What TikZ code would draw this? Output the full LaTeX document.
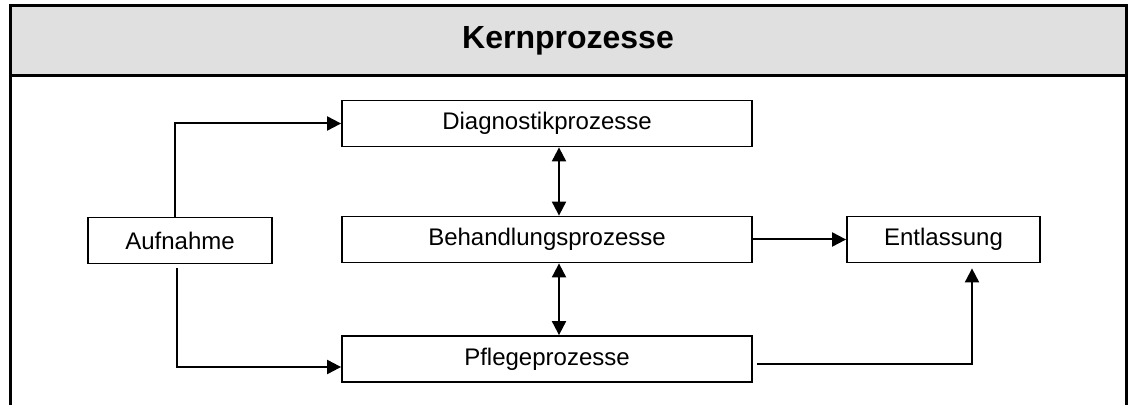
\documentclass[tikz,border=0pt]{standalone}
\usepackage{fontspec}
\setmainfont{Liberation Sans}
\usepackage{xcolor}
\usetikzlibrary{arrows.meta}
\definecolor{kopfgrau}{RGB}{224,224,224}

\begin{document}
\begin{tikzpicture}[x=0.5pt,y=-0.5pt,
        prozess/.style={draw, line width=0.9pt, minimum height=23pt, inner sep=0pt, font=\fontsize{12}{14}\selectfont},
        pfeil/.style={line width=1pt, -{Triangle[length=7pt,width=7pt]}},
        doppelpfeil/.style={line width=1pt, {Triangle[length=7pt,width=7pt]}-{Triangle[length=7pt,width=7pt]}}]
        \useasboundingbox (0,0) rectangle (1128,405);
        % Rahmen mit Kopfzeile
        \fill[kopfgrau] (10,6) rectangle (1126,76);
        \draw[line width=1.5pt] (10,405) -- (10,6) -- (1126,6) -- (1126,405);
        \draw[line width=1.5pt] (10,76) -- (1126,76);
        \node[font=\bfseries\fontsize{16}{18}\selectfont] (kopf) at (568,41) {Kernprozesse};
        % Prozesse
        \node[prozess, minimum width=92pt] (aufn) at (180,240.5) {Aufnahme};
        \node[prozess, minimum width=205pt] (diag) at (547,123.5) {Diagnostikprozesse};
        \node[prozess, minimum width=205pt] (beh) at (547,239.5) {Behandlungsprozesse};
        \node[prozess, minimum width=205pt] (pfl) at (547,359) {Pflegeprozesse};
        \node[prozess, minimum width=96.5pt] (entl) at (943.5,239.5) {Entlassung};
        % Verbindungen
        \draw[pfeil] ([xshift=-2.5pt]aufn.north) |- (diag.west);
        \draw[pfeil] ([xshift=-1.5pt,yshift=-2pt]aufn.south) |- ([yshift=-4pt]pfl.west);
        \draw[doppelpfeil] ([xshift=6pt]diag.south) -- ([xshift=6pt]beh.north);
        \draw[doppelpfeil] ([xshift=6pt]beh.south) -- ([xshift=6pt]pfl.north);
        \draw[pfeil] (beh.east) -- (entl.west);
        \draw[pfeil] ([xshift=2pt,yshift=-2.5pt]pfl.east) -| ([xshift=14.25pt,yshift=-2.5pt]entl.south);
\end{tikzpicture}
\end{document}
